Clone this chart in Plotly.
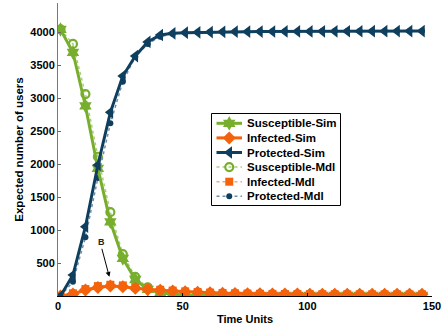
import plotly.graph_objects as go

# Time steps (sampled every 5 units)
time_units = [1, 6, 11, 16, 21, 26, 31, 36, 41, 46, 51, 56, 61, 66, 71,
              76, 81, 86, 91, 96, 101, 106, 111, 116, 121, 126, 131, 136, 141, 146]

susceptible_sim = [4040, 3690, 2880, 1935, 1125, 570, 250, 100, 45, 25, 15, 12, 10, 10, 8,
                   8, 8, 8, 8, 8, 8, 8, 8, 8, 8, 8, 8, 8, 8, 8]
infected_sim = [0, 30, 90, 130, 150, 140, 118, 100, 86, 76, 65, 56, 48, 42, 38,
                35, 33, 31, 30, 29, 28, 27, 27, 26, 26, 25, 25, 25, 25, 25]
protected_sim = [0, 318, 1050, 1985, 2783, 3333, 3636, 3850, 3955, 3980, 3990, 3995, 4000, 4003, 4005,
                 4006, 4007, 4008, 4009, 4010, 4010, 4011, 4011, 4012, 4012, 4013, 4013, 4014, 4014, 4015]

susceptible_mdl = [4040, 3820, 3060, 2110, 1270, 635, 290, 130, 55, 25, 12, 6, 3, 2, 1,
                   1, 0, 0, 0, 0, 0, 0, 0, 0, 0, 0, 0, 0, 0, 0]
infected_mdl = [0, 40, 105, 150, 170, 160, 135, 112, 95, 82, 70, 60, 52, 46, 41,
                37, 34, 32, 30, 29, 28, 27, 27, 26, 26, 25, 25, 25, 25, 25]
protected_mdl = [0, 217, 890, 1790, 2616, 3247, 3626, 3820, 3930, 3970, 3990, 3998, 4003, 4006, 4008,
                 4010, 4011, 4012, 4012, 4013, 4013, 4014, 4014, 4014, 4015, 4015, 4015, 4015, 4015, 4015]

series_names = ["Susceptible-Sim", "Infected-Sim", "Protected-Sim",
                "Susceptible-Mdl", "Infected-Mdl", "Protected-Mdl"]

y_ticks = [500, 1000, 1500, 2000, 2500, 3000, 3500, 4000]
x_ticks = [0, 50, 100, 150]

GREEN = "#78AE2E"
ORANGE = "#F4620C"
BLUE = "#0F3F5F"
GREEN_L = "#A9CF7A"
ORANGE_L = "#F9A36E"
BLUE_L = "#6F8EA6"

FONT = "Liberation Sans, Arial, Helvetica, sans-serif"

# Line / marker styles for each series, in legend order
styles = [
    dict(line=dict(color=GREEN, width=3), marker=dict(symbol="hexagram", size=11, color=GREEN)),
    dict(line=dict(color=ORANGE, width=3), marker=dict(symbol="diamond", size=10, color=ORANGE)),
    dict(line=dict(color=BLUE, width=3), marker=dict(symbol="triangle-left", size=11, color=BLUE)),
    dict(line=dict(color=GREEN_L, width=1.5, dash="dot"),
         marker=dict(symbol="circle-open", size=8, color=GREEN, line=dict(width=2.2, color=GREEN))),
    dict(line=dict(color=ORANGE_L, width=1.5, dash="dot"), marker=dict(symbol="square", size=8, color=ORANGE)),
    dict(line=dict(color=BLUE_L, width=1.5, dash="dot"), marker=dict(symbol="circle", size=6, color=BLUE)),
]
series_values = [susceptible_sim, infected_sim, protected_sim,
                 susceptible_mdl, infected_mdl, protected_mdl]

fig = go.Figure()

# Model curves first (beneath), then simulation curves
for i in [3, 4, 5, 0, 1, 2]:
    fig.add_trace(go.Scatter(x=time_units, y=series_values[i], name=series_names[i],
                             mode="lines+markers", showlegend=False, **styles[i]))

# Legend box drawn on a pixel-based overlay axis pair
LEG_X0, LEG_X1, LEG_Y0, LEG_Y1 = 211.5, 340.5, 113.5, 205.5
leg_rows = [123.3, 137.9, 152.5, 167.1, 181.7, 196.3]
SW_X0, SW_X1, TXT_X = 216.5, 242.0, 245.0
for i, yy in enumerate(leg_rows):
    fig.add_trace(go.Scatter(x=[SW_X0, SW_X1], y=[yy, yy], mode="lines", line=styles[i]["line"],
                             xaxis="x2", yaxis="y2", showlegend=False, hoverinfo="skip"))
    fig.add_trace(go.Scatter(x=[(SW_X0 + SW_X1) / 2], y=[yy], mode="markers", marker=styles[i]["marker"],
                             xaxis="x2", yaxis="y2", showlegend=False, hoverinfo="skip"))
    fig.add_annotation(x=TXT_X, y=yy, xref="x2", yref="y2", text=series_names[i], showarrow=False,
                       xanchor="left", yanchor="middle",
                       font=dict(family=FONT, size=11.5, color="black", weight="bold"))
fig.add_shape(type="rect", xref="x2", yref="y2", x0=LEG_X0, x1=LEG_X1, y0=LEG_Y0, y1=LEG_Y1,
              line=dict(color="black", width=1), fillcolor="white", layer="below")

# Peak marker for the infected curve
fig.add_annotation(x=20.6, y=290, ax=17.6, ay=715, xref="x", yref="y", axref="x", ayref="y",
                   text="B", showarrow=True, arrowhead=2, arrowsize=1, arrowwidth=1,
                   arrowcolor="black", yanchor="bottom", standoff=0,
                   font=dict(family=FONT, size=9, color="#222"))

fig.update_layout(
    width=445, height=331,
    margin=dict(l=58, r=13, t=3, b=35),
    paper_bgcolor="white", plot_bgcolor="white",
    font=dict(family=FONT, size=11, color="black", weight="bold"),
    showlegend=False,
    xaxis2=dict(overlaying="x", range=[58, 432], visible=False, fixedrange=True),
    yaxis2=dict(overlaying="y", range=[296, 3], visible=False, fixedrange=True),
)

fig.layout.xaxis.update(range=[0, 150], tickvals=x_ticks, ticks="inside", ticklen=3,
                        tickcolor="black", showline=True, linecolor="black", linewidth=1,
                        showgrid=False, zeroline=False, tickfont=dict(size=11),
                        title=dict(text="Time Units", standoff=4, font=dict(size=11)))
fig.layout.yaxis.update(range=[0, 4440], tickvals=y_ticks, ticks="inside", ticklen=3,
                        tickcolor="#666", showline=True, linecolor="#777", linewidth=1,
                        showgrid=False, zeroline=False, tickfont=dict(size=11),
                        title=dict(text="Expected number of users", standoff=4, font=dict(size=11.5)))

fig.write_html("out.html")
